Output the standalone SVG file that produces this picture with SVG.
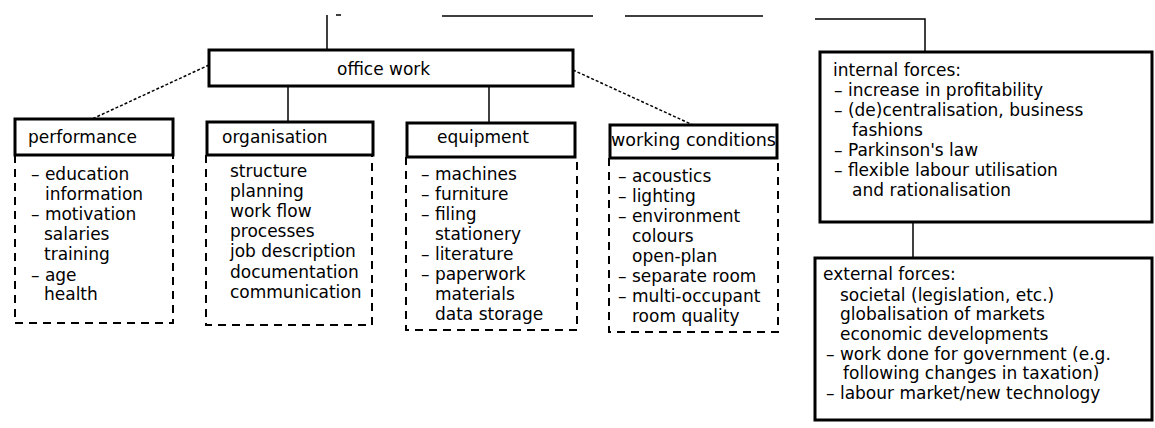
<svg xmlns="http://www.w3.org/2000/svg" width="1155" height="428" viewBox="0 0 1155 428">
<style>
.hdr{fill:#fff;stroke:#000;stroke-width:3}
.box{fill:#fff;stroke:#000;stroke-width:3}
.dsh{fill:none;stroke:#000;stroke-width:2;stroke-dasharray:8 6}
.conn{fill:none;stroke:#000;stroke-width:1.5}
.dot{stroke-dasharray:3 2}
text{font-family:"DejaVu Sans","Liberation Sans",sans-serif;font-size:17px;fill:#000}
</style>
<rect width="1155" height="428" fill="#fff"/>
<g id="connectors">
<path class="conn" d="M327,50 V15 M336,15 H341 M442,16 H593 M625,16 H763 M815,19 H925 V52"/>
<path class="conn dot" d="M209,65 L92,119"/>
<path class="conn" d="M288,86 V122"/>
<path class="conn" d="M489,86 V123"/>
<path class="conn dot" d="M573,70 L693,125"/>
<path class="conn" d="M913,222 V258"/>
</g>
<g id="office-work">
<rect class="hdr" x="209" y="50" width="364" height="36"/>
<text x="337" y="75">office work</text>
</g>
<g id="performance">
<path class="dsh" d="M15,155 V323 H173 V155"/>
<rect class="hdr" x="15" y="119" width="158" height="36"/>
<text x="28" y="143">performance</text>
<text x="31" y="180">– education</text>
<text x="45" y="200">information</text>
<text x="31" y="220">– motivation</text>
<text x="44" y="240">salaries</text>
<text x="44" y="260">training</text>
<text x="31" y="281">– age</text>
<text x="44" y="300">health</text>
</g>
<g id="organisation">
<path class="dsh" d="M206,155 V325 H372 V155"/>
<rect class="hdr" x="207" y="122" width="166" height="33"/>
<text x="222" y="143">organisation</text>
<text x="230" y="177">structure</text>
<text x="230" y="197">planning</text>
<text x="230" y="217">work flow</text>
<text x="230" y="237">processes</text>
<text x="230" y="257">job description</text>
<text x="230" y="278">documentation</text>
<text x="230" y="298">communication</text>
</g>
<g id="equipment">
<path class="dsh" d="M406,157 V330 H577 V157"/>
<rect class="hdr" x="407" y="123" width="168" height="34"/>
<text x="437" y="143">equipment</text>
<text x="421" y="180">– machines</text>
<text x="421" y="200">– furniture</text>
<text x="421" y="220">– filing</text>
<text x="435" y="240">stationery</text>
<text x="421" y="260">– literature</text>
<text x="421" y="280">– paperwork</text>
<text x="435" y="300">materials</text>
<text x="435" y="320">data storage</text>
</g>
<g id="working-conditions">
<path class="dsh" d="M609,158 V332 H778 V158"/>
<rect class="hdr" x="610" y="125" width="167" height="33"/>
<text x="611" y="146" textLength="165" lengthAdjust="spacingAndGlyphs">working conditions</text>
<text x="618" y="182">– acoustics</text>
<text x="618" y="202">– lighting</text>
<text x="618" y="222">– environment</text>
<text x="632" y="242">colours</text>
<text x="632" y="262">open-plan</text>
<text x="618" y="282">– separate room</text>
<text x="618" y="302">– multi-occupant</text>
<text x="632" y="322">room quality</text>
</g>
<g id="internal-forces">
<rect class="box" x="820" y="52" width="332" height="170"/>
<text x="833" y="76">internal forces:</text>
<text x="834" y="96">– increase in profitability</text>
<text x="834" y="116">– (de)centralisation, business</text>
<text x="852" y="136">fashions</text>
<text x="834" y="156">– Parkinson's law</text>
<text x="834" y="176">– flexible labour utilisation</text>
<text x="852" y="196">and rationalisation</text>
</g>
<g id="external-forces">
<rect class="box" x="815" y="258" width="337" height="162"/>
<text x="823" y="280">external forces:</text>
<text x="840" y="301">societal (legislation, etc.)</text>
<text x="840" y="320">globalisation of markets</text>
<text x="840" y="340">economic developments</text>
<text x="826" y="360">– work done for government (e.g.</text>
<text x="843" y="379">following changes in taxation)</text>
<text x="826" y="399">– labour market/new technology</text>
</g>
</svg>
